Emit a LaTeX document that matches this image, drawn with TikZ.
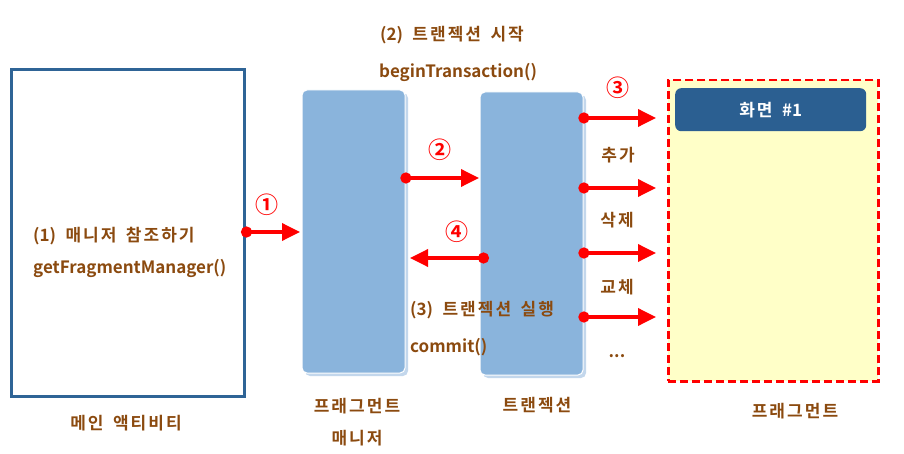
\documentclass[tikz,border=0pt]{standalone}
\usepackage{fontspec}
\setmainfont{Noto Sans CJK KR}[BoldFont={Noto Sans CJK KR Bold}]
\newfontfamily\krsp{Noto Sans CJK KR Bold}[LetterSpace=12,WordSpace=1.6]
\newcommand{\lat}[1]{{\normalfont\bfseries #1}}
\usetikzlibrary{arrows.meta}
\definecolor{txt}{HTML}{8B4A0F}
\definecolor{mainblue}{HTML}{2F6496}
\definecolor{barblue}{HTML}{8AB4DC}
\definecolor{barshadow}{HTML}{C3D7EC}
\definecolor{hdrblue}{HTML}{2B5F91}
\definecolor{fragfill}{HTML}{FFFFC8}
\definecolor{arrred}{HTML}{FF0000}
\tikzset{
  lbl/.style={font=\fontsize{17}{19}\selectfont\krsp, text=txt, inner sep=0pt},
  code/.style={font=\fontsize{17}{19}\selectfont\bfseries, text=txt, inner sep=0pt},
  num/.style={font=\fontsize{23}{25}\selectfont\bfseries, text=arrred, inner sep=0pt},
  bar/.style={fill=barblue, draw=white, line width=1pt, rounded corners=5pt},
  barsh/.style={fill=barshadow, draw=none, rounded corners=5pt},
  redarrow/.style={draw=arrred, line width=3.5pt, {Circle[length=11pt]}-{Triangle[length=18pt,width=17pt]}, shorten <=-5pt},
}
\begin{document}
\begin{tikzpicture}[x=1pt,y=-1pt]
\useasboundingbox (0,0) rectangle (904,454);
% main activity
\node[draw=mainblue, line width=3pt, minimum width=233pt, minimum height=327pt, anchor=north west, inner sep=0pt] (main) at (10,68) {};
\node[lbl, anchor=west] (t1a) at (33,236) {\lat{(1)} 매니저 참조하기};
\node[code, anchor=west] (t1b) at (33,268) {getFragmentManager()};
\node[lbl] (mainlbl) at (126,423) {메인 액티비티};
% fragment manager bar
\fill[barsh] (305,93) rectangle (408,376);
\path[bar] (302,90) rectangle (405,373);
\node[minimum width=103pt, minimum height=283pt, anchor=north west, inner sep=0pt] (fm) at (302,90) {};
\node[lbl] (fmlbl1) at (357,406) {프래그먼트};
\node[lbl] (fmlbl2) at (357,438) {매니저};
% transaction bar
\fill[barsh] (483,95) rectangle (586,378);
\path[bar] (480,92) rectangle (583,375);
\node[minimum width=103pt, minimum height=283pt, anchor=north west, inner sep=0pt] (tr) at (480,92) {};
\node[lbl] (trlbl) at (537,405) {트랜젝션};
% fragment
\node[draw=arrred, fill=fragfill, dash pattern=on 8pt off 4pt, line width=2.5pt, minimum width=210pt, minimum height=301pt, anchor=north west, inner sep=0pt] (frag) at (667,79) {};
\node[fill=hdrblue, rounded corners=6pt, minimum width=191pt, minimum height=43pt, anchor=north west, inner sep=0pt] (hdr) at (675,88) {};
\node[lbl, text=white] (hdrt) at (hdr.center) {화면 \lat{\#1}};
\node[lbl] (fraglbl) at (795,411) {프래그먼트};
% top texts
\node[lbl] (t2a) at (452,35) {\lat{(2)} 트랜젝션 시작};
\node[code] (t2b) at (458,72) {beginTransaction()};
% commit texts
\node[lbl, anchor=west] (t3a) at (410,310) {\lat{(3)} 트랜젝션 실행};
\node[code, anchor=west] (t3b) at (410,347) {commit()};
% coordinates
\coordinate (a1s) at (main.east |- 0,232);
\coordinate (a1e) at (300,232);
\coordinate (a2s) at (fm.east |- 0,178);
\coordinate (a2e) at (479,178);
\coordinate (a4s) at (484,258);
\coordinate (a4e) at (410,258);
\coordinate (b1s) at (tr.east |- 0,118);
\coordinate (b1e) at (656,118);
\coordinate (b2s) at (tr.east |- 0,188);
\coordinate (b2e) at (656,188);
\coordinate (b3s) at (tr.east |- 0,253);
\coordinate (b3e) at (656,253);
\coordinate (b4s) at (tr.east |- 0,317);
\coordinate (b4e) at (656,317);
\draw[redarrow] (a1s) -- (a1e);
\draw[redarrow] (a2s) -- (a2e);
\draw[redarrow] (a4s) -- (a4e);
\draw[redarrow] (b1s) -- (b1e);
\draw[redarrow] (b2s) -- (b2e);
\draw[redarrow] (b3s) -- (b3e);
\draw[redarrow] (b4s) -- (b4e);
% numbers
\node[num] (n1) at (267,205) {①};
\node[num] (n2) at (440,150) {②};
\node[num] (n3) at (618,88) {③};
\node[num] (n4) at (457,232) {④};
% ops labels
\node[lbl] (op1) at (618,155) {추가};
\node[lbl] (op2) at (617,220) {삭제};
\node[lbl] (op3) at (617,287) {교체};
\node[code] (op4) at (617,356) {...};
\end{tikzpicture}
\end{document}
